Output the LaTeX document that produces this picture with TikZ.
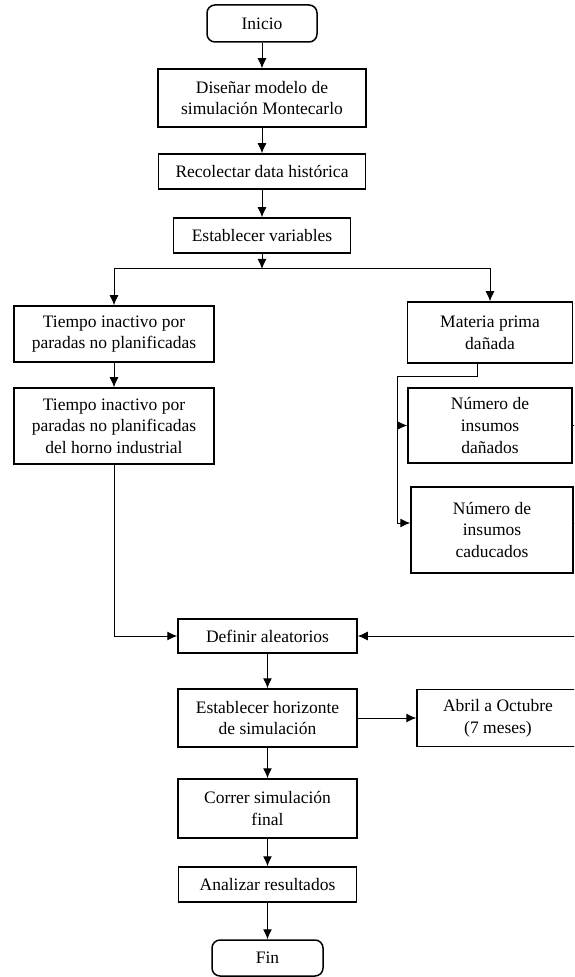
\documentclass[tikz,border=0pt]{standalone}
\usepackage{fontspec}
\setmainfont{Liberation Serif}
\usetikzlibrary{arrows.meta}
\tikzset{x=0.5pt, y=-0.5pt,
proc/.style={ % Sets the properties for each process box
draw,
line width=0.75pt,
align=center,
inner sep=1pt,
font=\fontsize{8.75}{10.8}\selectfont},
term/.style={proc, rounded corners=4pt}, % Start and end boxes
link/.style={ % Sets the properties for each connector
draw,
line width=0.5pt,
-{Latex[length=5pt,width=4.5pt]}},
wire/.style={draw, line width=0.5pt}}

\begin{document}
\begin{tikzpicture}
\useasboundingbox (0,0) rectangle (574,977);
\clip (0,0) rectangle (574,977);
\node[term, minimum width=55pt, minimum height=18.5pt] (inicio) at (262,23.5) {Inicio};
\node[proc, minimum width=104pt, minimum height=29pt] (disenar) at (262,98) {Diseñar modelo de\\simulación Montecarlo};
\node[proc, minimum width=103.5pt, minimum height=17.5pt] (recol) at (262,171.5) {Recolectar data histórica};
\node[proc, minimum width=88.5pt, minimum height=17.5pt] (estvar) at (262,235.5) {Establecer variables};
\coordinate (split) at (262,269);
\node[proc, minimum width=100pt, minimum height=28pt] (tiempoA) at (114,334) {Tiempo inactivo por\\paradas no planificadas};
\node[proc, minimum width=100pt, minimum height=38pt] (tiempoB) at (114,426) {Tiempo inactivo por\\paradas no planificadas\\del horno industrial};
\node[proc, minimum width=82.5pt, minimum height=30.5pt] (materia) at (490,332.5) {Materia prima\\dañada};
\node[proc, minimum width=82pt, minimum height=37.5pt] (numA) at (490,425.5) {Número de\\insumos\\dañados};
\node[proc, minimum width=81pt, minimum height=43pt] (numB) at (492,530) {Número de\\insumos\\caducados};
\coordinate (bus) at (397,377);
\coordinate (rbus) at (592,636);
\node[proc, minimum width=89.5pt, minimum height=17pt] (definir) at (267.5,636) {Definir aleatorios};
\node[proc, minimum width=89.5pt, minimum height=29pt] (horiz) at (267.5,718) {Establecer horizonte\\de simulación};
\node[proc, minimum width=81pt, minimum height=28.5pt] (abril) at (498,718) {Abril a Octubre\\(7 meses)};
\node[proc, minimum width=89.5pt, minimum height=29.5pt] (correr) at (267.5,808.5) {Correr simulación\\final};
\node[proc, minimum width=89pt, minimum height=17.5pt] (analizar) at (267.5,884.5) {Analizar resultados};
\node[term, minimum width=55.5pt, minimum height=18pt] (fin) at (267.5,958) {Fin};
% main column
\draw[link] (inicio) -- (disenar);
\draw[link] (disenar) -- (recol);
\draw[link] (recol) -- (estvar);
\draw[link] (estvar) -- (split);
\draw[link] (split) -| (tiempoA);
\draw[link] (split) -| (materia);
\draw[link] (tiempoA) -- (tiempoB);
% materia prima branch
\draw[link] ([xshift=-6.5pt]materia.south) |- (bus) |- ([yshift=3.5pt]numB.west);
\draw[link] (bus |- numA.west) -- (numA.west);
\draw[link] (numA.east) -| (rbus) -- (definir.east);
\draw[wire] ([yshift=3.5pt]numB.east) -| (rbus);
\draw[link] (tiempoB) |- (definir.west);
% lower column
\draw[link] (definir) -- (horiz);
\draw[link] (horiz) -- (abril);
\draw[link] (horiz) -- (correr);
\draw[link] (correr) -- (analizar);
\draw[link] (analizar) -- (fin);
\end{tikzpicture}
\end{document}
